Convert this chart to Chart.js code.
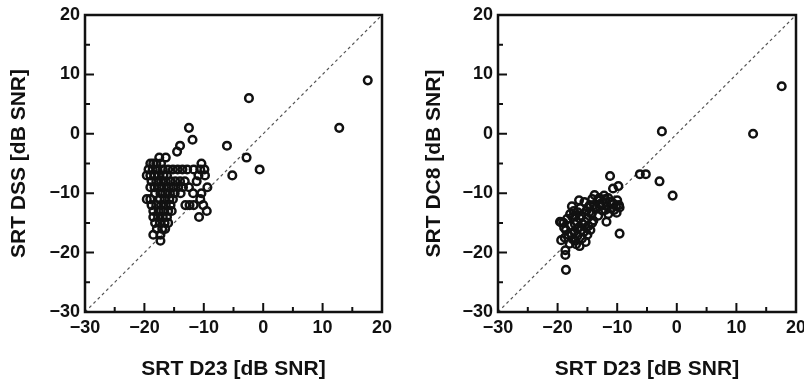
<!DOCTYPE html>
<html>
<head>
<meta charset="utf-8">
<script src="https://cdn.jsdelivr.net/npm/chart.js@4/dist/chart.umd.min.js"></script>
<style>
  html, body { margin: 0; padding: 0; background: #fff; }
  #wrap { position: relative; width: 804px; height: 385px; overflow: hidden; }
  #c1 { position: absolute; left: 0; top: 0; }
  #c2 { position: absolute; left: 400px; top: 0; }
</style>
</head>
<body>
<div id="wrap">
  <canvas id="c1" width="400" height="385"></canvas>
  <canvas id="c2" width="404" height="385"></canvas>
</div>
<script>
// ---- data ----
const tickValues = [-30, -20, -10, 0, 10, 20];
const tickLabels = ['\u221230', '\u221220', '\u221210', '0', '10', '20'];
const minorTickValues = [-30, -25, -20, -15, -10, -5, 0, 5, 10, 15, 20];
const identityLine = [[-30, -30], [20, 20]];

const xTitle = 'SRT D23 [dB SNR]';
const yTitleLeft = 'SRT DSS [dB SNR]';
const yTitleRight = 'SRT DC8 [dB SNR]';

// [SRT D23, SRT DSS]
const d23VsDss = [
  [17.6, 9], [12.8, 1], [-2.4, 6], [-6.1, -2], [-2.8, -4], [-5.2, -7], [-0.6, -6],
  [-12.5, 1], [-11.9, -1], [-14.0, -2], [-14.5, -3],
  [-17.5, -4], [-16.4, -4],
  [-19.0, -5], [-18.5, -5], [-18.0, -5], [-17.2, -5], [-10.4, -5],
  [-19.3, -6], [-18.6, -6], [-17.8, -6], [-16.9, -6], [-16.0, -6], [-15.2, -6], [-14.4, -6],
  [-13.6, -6], [-12.8, -6], [-11.7, -6], [-10.6, -6], [-9.9, -6],
  [-19.6, -7], [-19.0, -7], [-18.3, -7], [-17.6, -7], [-16.8, -7], [-16.2, -7], [-10.9, -7], [-9.8, -7],
  [-18.8, -8], [-18.0, -8], [-17.2, -8], [-16.4, -8], [-15.6, -8], [-14.8, -8], [-14.0, -8], [-13.2, -8], [-11.2, -8],
  [-19.0, -9], [-18.3, -9], [-17.5, -9], [-16.7, -9], [-15.9, -9], [-15.1, -9], [-14.3, -9], [-13.5, -9], [-12.5, -9], [-9.4, -9],
  [-18.2, -10], [-17.3, -10], [-16.5, -10], [-15.7, -10], [-14.9, -10], [-13.9, -10], [-11.8, -10], [-10.4, -10],
  [-19.6, -11], [-19.0, -11], [-17.4, -11], [-16.6, -11], [-15.8, -11], [-15.2, -11], [-10.6, -11],
  [-18.8, -12], [-18.0, -12], [-17.2, -12], [-16.4, -12], [-15.6, -12], [-13.1, -12], [-12.4, -12], [-11.7, -12], [-10.1, -12],
  [-18.5, -13], [-17.6, -13], [-16.8, -13], [-16.0, -13], [-15.4, -13], [-9.5, -13],
  [-18.5, -14], [-17.7, -14], [-16.9, -14], [-16.2, -14], [-10.8, -14],
  [-18.2, -15], [-17.4, -15], [-16.6, -15], [-16.0, -15],
  [-17.9, -16], [-17.0, -16], [-16.5, -16],
  [-18.5, -17], [-17.3, -17],
  [-17.3, -18]
];

// [SRT D23, SRT DC8]
const d23VsDc8 = [
  [17.6, 8], [12.8, 0], [-2.5, 0.4], [-6.2, -6.8], [-5.2, -6.8], [-2.9, -8.0], [-0.7, -10.4],
  [-11.2, -7.1], [-10.7, -9.2], [-9.8, -8.8], [-9.6, -16.8], [-11.8, -14.8], [-10.1, -13.3], [-9.6, -12.4],
  [-18.6, -22.9], [-18.7, -20.4], [-18.7, -19.6], [-16.3, -18.9], [-19.6, -14.8], [-19.4, -17.9],
  [-19.0, -15.0], [-18.6, -16.2], [-18.2, -17.0], [-18.8, -17.5], [-17.8, -15.5], [-17.5, -14.0],
  [-17.2, -16.5], [-17.0, -18.0], [-17.6, -12.2], [-17.3, -13.0], [-16.8, -14.8], [-16.5, -15.8],
  [-16.7, -17.2], [-16.2, -12.5], [-16.0, -13.8], [-15.8, -15.2], [-15.6, -16.5], [-15.9, -17.6],
  [-15.5, -11.5], [-15.2, -13.0], [-15.0, -14.2], [-14.8, -15.5], [-15.3, -18.2], [-14.6, -12.0],
  [-14.3, -13.5], [-14.0, -14.6], [-14.2, -11.0], [-13.8, -10.3], [-13.5, -12.4], [-13.2, -13.8],
  [-13.0, -10.8], [-12.8, -11.8], [-12.5, -12.9], [-12.0, -11.0], [-11.8, -12.2], [-11.5, -13.5],
  [-11.2, -11.5], [-11.0, -12.6], [-10.6, -11.8], [-10.2, -12.2], [-10.0, -11.2], [-9.7, -12.0],
  [-10.5, -12.8], [-16.4, -11.2], [-17.9, -13.5], [-18.4, -14.3], [-18.0, -18.5], [-17.4, -17.8],
  [-16.9, -18.6], [-15.0, -17.0], [-14.5, -16.2], [-17.1, -15.2], [-16.3, -14.2], [-15.4, -14.8],
  [-14.7, -13.2], [-13.9, -12.0], [-13.3, -11.2], [-12.2, -10.4], [-18.9, -15.8], [-19.4, -14.9],
  [-17.0, -13.8], [-16.0, -16.2], [-15.2, -15.8], [-14.2, -15.0], [-13.0, -12.2], [-12.0, -12.8],
  [-11.5, -10.8], [-16.6, -13.2], [-17.7, -16.8], [-14.9, -12.4]
];

// ---- drawing ----
const FONT = "'Liberation Sans', Arial, Helvetica, sans-serif";
const INK = '#111';

const frameTicks = {
  id: 'frameTicks',
  afterDatasetsDraw(chart) {
    const { ctx, chartArea: a, scales: { x, y } } = chart;
    ctx.save();
    ctx.strokeStyle = INK;
    ctx.lineWidth = 2;
    ctx.beginPath();
    for (const v of minorTickValues) {
      const len = v % 10 === 0 ? 9 : 5;
      const px = x.getPixelForValue(v);
      ctx.moveTo(px, a.bottom);
      ctx.lineTo(px, a.bottom - len);
      const py = y.getPixelForValue(v);
      ctx.moveTo(a.left, py);
      ctx.lineTo(a.left + len, py);
    }
    ctx.stroke();
    ctx.lineWidth = 2.5;
    ctx.strokeRect(a.left, a.top, a.right - a.left, a.bottom - a.top);
    ctx.restore();
  }
};

function makeChart(canvasId, points, yTitle, yWidth, rightPad, yTitlePad) {
  const axisCommon = {
    type: 'linear',
    min: -30,
    max: 20,
    grid: { display: false, drawTicks: false },
    border: { display: false },
    afterBuildTicks: s => { s.ticks = tickValues.map(v => ({ value: v })); }
  };
  return new Chart(document.getElementById(canvasId), {
    type: 'scatter',
    data: {
      datasets: [
        {
          data: points.map(p => ({ x: p[0], y: p[1] })),
          pointStyle: 'circle',
          pointRadius: 3.8,
          pointBorderWidth: 2.5,
          borderColor: INK,
          backgroundColor: 'rgba(0,0,0,0)',
          showLine: false
        },
        {
          data: identityLine.map(p => ({ x: p[0], y: p[1] })),
          showLine: true,
          borderColor: '#555',
          borderWidth: 1.2,
          borderDash: [3, 3],
          pointRadius: 0,
          fill: false
        }
      ]
    },
    options: {
      responsive: false,
      animation: false,
      devicePixelRatio: 1,
      layout: { padding: { left: 0, right: rightPad, top: 15, bottom: 0 } },
      plugins: { legend: { display: false }, tooltip: { enabled: false } },
      scales: {
        x: Object.assign({}, axisCommon, {
          position: 'bottom',
          ticks: {
            color: INK, padding: 5, maxRotation: 0, autoSkip: false,
            font: { family: FONT, size: 18, weight: 'bold' },
            callback: v => tickLabels[tickValues.indexOf(v)]
          },
          title: {
            display: true, text: xTitle, color: INK,
            font: { family: FONT, size: 21, weight: 'bold' },
            padding: { top: 0, bottom: 3 }
          },
          afterFit: s => { s.height = 73; s.paddingLeft = 0; s.paddingRight = 0; }
        }),
        y: Object.assign({}, axisCommon, {
          position: 'left',
          ticks: {
            color: INK, padding: 5, autoSkip: false,
            font: { family: FONT, size: 18, weight: 'bold' },
            callback: v => tickLabels[tickValues.indexOf(v)]
          },
          title: {
            display: true, text: yTitle, color: INK,
            font: { family: FONT, size: 21, weight: 'bold' },
            padding: { top: yTitlePad, bottom: 0 }
          },
          afterFit: s => { s.width = yWidth; s.paddingTop = 0; s.paddingBottom = 0; }
        })
      }
    },
    plugins: [frameTicks]
  });
}

makeChart('c1', d23VsDss, yTitleLeft, 85, 18, 7);
makeChart('c2', d23VsDc8, yTitleRight, 98, 8, 22);
</script>
</body>
</html>
